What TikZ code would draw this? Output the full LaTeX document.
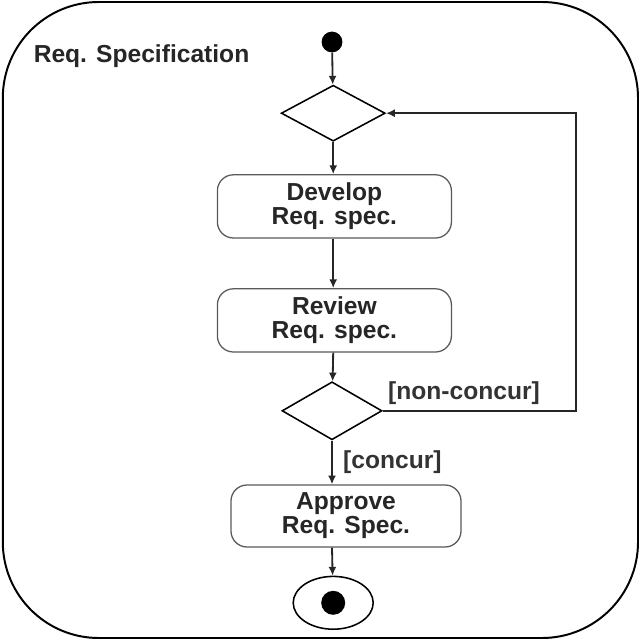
\documentclass[tikz,border=0pt]{standalone}
\usepackage{fontspec}
\setmainfont{Liberation Sans}
\usetikzlibrary{shapes.geometric,arrows.meta}

\begin{document}
\begin{tikzpicture}[
  act/.style={rectangle,rounded corners=0.4cm,draw=black!65,line width=0.9pt,minimum width=5.85cm,minimum height=1.58cm,align=center,inner sep=0pt},
  dec/.style={diamond,draw,line width=1.1pt,minimum width=2.6cm,minimum height=1.4cm,inner sep=0pt},
  edge/.style={black!85,line width=1.3pt,-{Latex[length=2.2mm,width=2mm]}},
  lbl/.style={font=\fontsize{17.5}{18}\selectfont\bfseries,text=black!80},
  every node/.style={font=\fontsize{17.5}{17}\selectfont\bfseries,text=black!85}
]
  \useasboundingbox (0,0) rectangle (16,-16);
  \draw[line width=1.4pt,rounded corners=2.4cm] (0.07,-0.05) rectangle (15.95,-15.95);
  \node[anchor=west] (title) at (0.72,-1.4) {Req. Specification};

  \node[circle,fill=black,minimum size=0.52cm,inner sep=0pt] (start) at (8.3,-1.05) {};
  \node[dec] (merge) at (8.33,-2.83) {};
  \node[act] (develop) at (8.36,-5.16) {Develop\\Req. spec.};
  \node[act] (review) at (8.36,-8.01) {Review\\Req. spec.};
  \node[dec,minimum width=2.5cm,minimum height=1.45cm] (decide) at (8.3,-10.27) {};
  \node[act,minimum width=5.75cm,minimum height=1.55cm] (approve) at (8.65,-12.9) {Approve\\Req. Spec.};
  \node[ellipse,draw,line width=1.1pt,minimum width=2cm,minimum height=1.32cm,inner sep=0pt] (final) at (8.33,-15.07) {};
  \node[circle,fill=black,minimum size=0.6cm,inner sep=0pt] (dot) at (final.center) {};
  \coordinate (turn) at (14.4,-10.27);

  \draw[edge] (start)--(merge);
  \draw[edge] (merge)--(merge.south |- develop.north);
  \draw[edge] (merge.south |- develop.south)--(merge.south |- review.north);
  \draw[edge] (merge.south |- review.south)--(decide);
  \draw[edge] (decide.east)--(turn)|-(merge.east);
  \draw[edge] (decide)--node[lbl,right=4pt]{[concur]}(decide.south |- approve.north);
  \draw[edge] (decide.south |- approve.south)--(final);
  \node[lbl] (nc) at (11.6,-9.83) {[non-concur]};
\end{tikzpicture}
\end{document}
